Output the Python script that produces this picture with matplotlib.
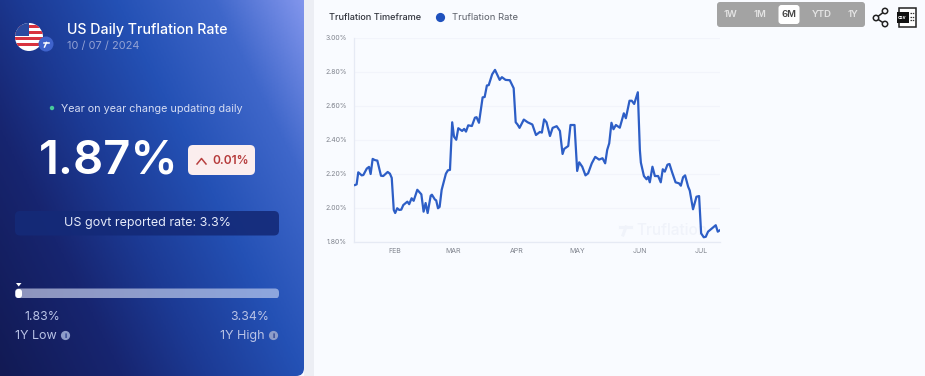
import numpy as np
from matplotlib import pyplot as plt, dates as mdates
from matplotlib.colors import LinearSegmentedColormap
from matplotlib.patches import Circle, FancyBboxPatch, Rectangle, Polygon
from datetime import datetime as dt

plt.rcParams['font.family'] = ['Inter', 'DejaVu Sans']

# Chart data, days counted from the first date on the axis
START_DATE = "2024-01-12"
days = [0.5, 1.3, 2.1, 3.8, 4.6, 6.3, 7.4, 8.2, 9.2, 10.3, 11.5, 13.3, 14.4, 16.6, 17.7, 18.6,
        19.6, 20.3, 21.3, 22.3, 23.3, 24.3, 26.3, 27.2, 28.4, 29.4, 31.2, 33.2, 34.3, 35.3, 36.3,
        37.8, 38.4, 39.9, 40.5, 41.4, 42.2, 43.2, 45.3, 46.3, 47.3, 47.9, 48.4, 49.3, 50.4, 51.4,
        53.3, 54.3, 55.2, 56.3, 58.1, 59.6, 60.4, 61.6, 63.4, 64.4, 65.5, 66.4, 68.1, 69.5, 71.8,
        72.9, 74.7, 76.8, 78.7, 79.7, 80.6, 81.6, 83.7, 85.6, 87.9, 89.7, 91.6, 92.6, 93.7, 94.9,
        96.6, 97.9, 99.9, 101.5, 102.8, 103.6, 105.6, 106.7, 108.7, 110.0, 111.0, 112.5, 114.1,
        115.4, 117.2, 118.9, 120.8, 122.5, 123.8, 124.8, 125.8, 126.9, 127.9, 129.1, 131.0, 133.0,
        134.0, 135.8, 136.9, 138.1, 139.9, 140.9, 141.4, 142.9, 144.2, 145.0, 145.8, 147.1, 148.3,
        149.9, 151.2, 152.2, 153.2, 154.5, 155.5, 156.8, 158.5, 160.2, 161.1, 162.2, 163.2, 164.7,
        165.5, 167.1, 168.8, 170.1, 171.1, 172.4, 173.4, 174.5, 178.3, 179.3, 180.3]
rates = [2.133, 2.137, 2.208, 2.190, 2.192, 2.230, 2.240, 2.198, 2.287, 2.280, 2.277, 2.188, 2.186,
         2.210, 2.200, 2.175, 1.986, 1.968, 1.996, 1.986, 1.988, 2.015, 2.035, 2.020, 2.055, 2.040,
         2.105, 2.078, 1.976, 2.027, 1.968, 2.070, 2.076, 2.047, 2.043, 1.996, 2.004, 2.104, 2.200,
         2.220, 2.222, 2.373, 2.503, 2.418, 2.400, 2.468, 2.452, 2.464, 2.448, 2.485, 2.481, 2.530,
         2.533, 2.500, 2.650, 2.652, 2.720, 2.722, 2.786, 2.812, 2.753, 2.769, 2.753, 2.751, 2.704,
         2.503, 2.490, 2.470, 2.519, 2.503, 2.490, 2.428, 2.446, 2.442, 2.520, 2.503, 2.422, 2.470,
         2.480, 2.452, 2.316, 2.346, 2.363, 2.487, 2.487, 2.216, 2.267, 2.241, 2.190, 2.202, 2.261,
         2.299, 2.283, 2.291, 2.261, 2.340, 2.379, 2.500, 2.462, 2.487, 2.471, 2.556, 2.527, 2.630,
         2.630, 2.611, 2.680, 2.340, 2.265, 2.186, 2.167, 2.182, 2.149, 2.241, 2.186, 2.186, 2.149,
         2.226, 2.212, 2.253, 2.257, 2.208, 2.149, 2.143, 2.129, 2.179, 2.190, 2.123, 2.100, 1.990,
         2.064, 2.068, 1.848, 1.825, 1.828, 1.858, 1.896, 1.858, 1.866]
y_ticks = [1.8, 2.0, 2.2, 2.4, 2.6, 2.8, 3.0]
month_dates = ["2024-02-01", "2024-03-01", "2024-04-01", "2024-05-01", "2024-06-01", "2024-07-01"]
X_END_DAY = 180.4
timeframes = ["1W", "1M", "6M", "YTD", "1Y"]

# Colors
PAGE = '#f9fbff'
STRIP = '#eceef4'
LINE = '#2d5ec6'
GRID = '#f2f4fb'
AXISLINE = '#e6eaf4'
TICKTEXT = '#80848e'
PANEL_COLORS = [(0.0, '#121a54'), (0.25, '#172570'), (0.42, '#1c3a94'), (0.62, '#2451b5'),
                (0.82, '#3f67ca'), (1.0, '#8195ec')]

fig = plt.figure(figsize=(9.25, 3.76), dpi=100, facecolor=PAGE)

# Whole figure layer in pixel coordinates, for the page furniture
bg = fig.add_axes([0, 0, 1, 1])
bg.set_xlim(0, 925)
bg.set_ylim(376, 0)
bg.axis('off')

bg.add_patch(Rectangle((304, 0), 10, 376, color=STRIP, lw=0))

# Left panel gradient, clipped to rounded shape
yy, xx = np.mgrid[0:1:200j, 0:1:200j]
grad = 0.62 * xx + 0.38 * (1 - yy)
cmap = LinearSegmentedColormap.from_list('panel', PANEL_COLORS)
panel_img = bg.imshow(grad, extent=(0, 304, 376, 0), cmap=cmap, vmin=0, vmax=1, aspect='auto', zorder=1)
panel_clip = FancyBboxPatch((-20, -20), 324, 396, boxstyle="round,pad=0,rounding_size=8",
                            transform=bg.transData, fc='none', ec='none')
bg.add_patch(panel_clip)
panel_img.set_clip_path(panel_clip)
bg.set_xlim(0, 925)
bg.set_ylim(376, 0)

# Flag icon
flag = Circle((29, 37), 14, fc='white', ec='none', zorder=2)
bg.add_patch(flag)
for i in range(4):
    stripe = Rectangle((15, 24.5 + i * 6.2), 28, 3.2, fc='#d8333f', ec='none', zorder=3)
    bg.add_patch(stripe)
    stripe.set_clip_path(flag)
canton = Rectangle((15, 23), 13.5, 13, fc='#2b4aa0', ec='none', zorder=4)
bg.add_patch(canton)
canton.set_clip_path(flag)
bg.add_patch(Circle((46, 44), 7.5, fc='#3f63cc', ec='none', zorder=5))
bg.plot([43.5, 48.5], [42.5, 42.5], color='white', lw=1.1, zorder=6)
bg.plot([46.5, 44.5], [42.5, 47], color='white', lw=1.1, zorder=6)

# Panel texts
bg.text(67, 30, "US Daily Truflation Rate", color='white', fontsize=10.2, fontweight='medium', va='center', zorder=6)
bg.text(67, 45.5, "10 / 07 / 2024", color='#93a2d4', fontsize=7.9, va='center', zorder=6)
bg.add_patch(Circle((52, 108), 2.2, fc='#47c99a', ec='none', zorder=6))
bg.text(61, 109, "Year on year change updating daily", color='#d5dcf3', fontsize=7.8, va='center', zorder=6)
bg.text(39, 162, "1.87%", color='white', fontsize=34, fontweight='semibold', va='center', zorder=6)

bg.add_patch(FancyBboxPatch((188, 145), 67, 30, boxstyle="round,pad=0,rounding_size=5",
                            fc='#fbeeee', ec='none', zorder=6))
bg.plot([197, 201.5, 206], [164, 158.5, 164], color='#b8403f', lw=1.1, zorder=7)
bg.text(212, 160.5, "0.01%", color='#b53a3a', fontsize=8.6, fontweight='semibold', va='center', zorder=7)

bg.add_patch(FancyBboxPatch((15, 211), 264, 24.5, boxstyle="round,pad=0,rounding_size=5",
                            fc='#142a78', ec='none', alpha=0.9, zorder=6))
bg.text(147, 223, "US govt reported rate: 3.3%", color='#e6ebfa', fontsize=9, ha='center', va='center', zorder=7)

# Range slider
slider_cmap = LinearSegmentedColormap.from_list('slider', ['#8f95bd', '#8da6de'])
slider = bg.imshow(np.linspace(0, 1, 100).reshape(1, -1), extent=(15, 279, 298.5, 288.5), cmap=slider_cmap,
                   aspect='auto', zorder=6)
slider_clip = FancyBboxPatch((15, 288.5), 264, 10, boxstyle="round,pad=0,rounding_size=4",
                             transform=bg.transData, fc='none', ec='none')
bg.add_patch(slider_clip)
slider.set_clip_path(slider_clip)
bg.set_xlim(0, 925)
bg.set_ylim(376, 0)
bg.add_patch(FancyBboxPatch((15.5, 289), 6.5, 9, boxstyle="round,pad=0,rounding_size=3",
                            fc='white', ec='none', zorder=7))
bg.add_patch(Polygon([[16, 283], [21.5, 283], [18.7, 286.5]], fc='white', ec='none', zorder=7))

bg.text(42.5, 317, "1.83%", color='#b9c3e6', fontsize=8.8, ha='center', va='center', zorder=7)
bg.text(249.5, 317, "3.34%", color='#b9c3e6', fontsize=8.8, ha='center', va='center', zorder=7)
bg.text(15, 336, "1Y Low", color='#b9c3e6', fontsize=9, va='center', zorder=7)
bg.text(220, 336, "1Y High", color='#b9c3e6', fontsize=9, va='center', zorder=7)
for cx in [65.5, 273.5]:
    bg.add_patch(Circle((cx, 335.5), 4.6, fc='#8d9cc9', ec='none', zorder=7))
    bg.text(cx, 335.7, "i", color='#1d3386', fontsize=5.5, fontweight='bold', ha='center', va='center', zorder=8)

# Header of the chart
bg.text(329, 17.5, "Truflation Timeframe", color='#33363f', fontsize=6.6, fontweight='medium', va='center')
bg.add_patch(Circle((440.5, 17.5), 4.6, fc='#1f51bd', ec='none'))
bg.text(452, 17.5, "Truflation Rate", color='#5c6069', fontsize=6.8, va='center')

# Timeframe buttons
bg.add_patch(FancyBboxPatch((717, 2), 148, 25, boxstyle="round,pad=0,rounding_size=3", fc='#a3a3a3', ec='none'))
bg.add_patch(FancyBboxPatch((778.5, 5), 21, 19, boxstyle="round,pad=0,rounding_size=3", fc='white', ec='none'))
for label, cx in zip(timeframes, [730.5, 759.5, 789, 822, 853]):
    color = '#444444' if label == "6M" else '#e4e4e4'
    bg.text(cx, 14.5, label, color=color, fontsize=6.9, fontweight='semibold', ha='center', va='center')

# Share icon
bg.plot([885, 876, 885], [11, 18, 24], color='#222222', lw=1.1)
for cx, cy in [(885, 11), (876, 18), (885, 24)]:
    bg.add_patch(Circle((cx, cy), 2.7, fc=PAGE, ec='#222222', lw=1.1, zorder=3))

# Csv icon
bg.add_patch(Rectangle((899, 8), 16.5, 18.5, fc='white', ec='#222222', lw=1.1))
bg.add_patch(Rectangle((896.5, 12), 12, 11, fc='#111111', ec='none', zorder=3))
bg.text(902.5, 17.5, "csv", color='white', fontsize=3.5, fontweight='bold', ha='center', va='center', zorder=4)
for cy in [13, 16.5, 20]:
    bg.plot([910, 914], [cy, cy], color='#333333', lw=0.9, ls=(0, (1.2, 0.6)))

# Chart axes
ax = fig.add_axes([354 / 925, 1 - 241.5 / 376, (720 - 354) / 925, (241.5 - 38) / 376])
ax.patch.set_alpha(0)
start_num = mdates.date2num(dt.strptime(START_DATE, "%Y-%m-%d"))
x_values = [start_num + d for d in days]
ax.plot(x_values, rates, color=LINE, lw=1.6, solid_joinstyle='round', zorder=3)
ax.set_xlim(start_num, start_num + X_END_DAY)
ax.set_ylim(1.8, 3.0)
ax.set_yticks(y_ticks)
ax.set_yticklabels(["%.2f%%" % v for v in y_ticks])
ax.set_xticks([mdates.date2num(dt.strptime(d, "%Y-%m-%d")) for d in month_dates])
ax.set_xticklabels([dt.strptime(d, "%Y-%m-%d").strftime("%b").upper() for d in month_dates])
ax.tick_params(axis='both', length=0, labelsize=5, labelcolor=TICKTEXT)
ax.tick_params(axis='x', pad=5)
ax.tick_params(axis='y', pad=5)
ax.grid(axis='y', color=GRID, lw=0.9)
ax.set_axisbelow(True)
for side in ['top', 'right']:
    ax.spines[side].set_visible(False)
for side in ['left', 'bottom']:
    ax.spines[side].set_color(AXISLINE)
    ax.spines[side].set_linewidth(0.9)

# Watermark, small logo stroke and the name
ax.text(0.771, 0.055, "Truflation", transform=ax.transAxes, color='#f0f3fa', fontsize=11,
        fontweight='medium', va='center', zorder=1)
bg.plot([620, 631], [227, 227], color='#f0f3fa', lw=2.2)
bg.plot([626, 623], [227, 235], color='#f0f3fa', lw=2.2)

plt.savefig("out.png", dpi=100, facecolor=PAGE)
